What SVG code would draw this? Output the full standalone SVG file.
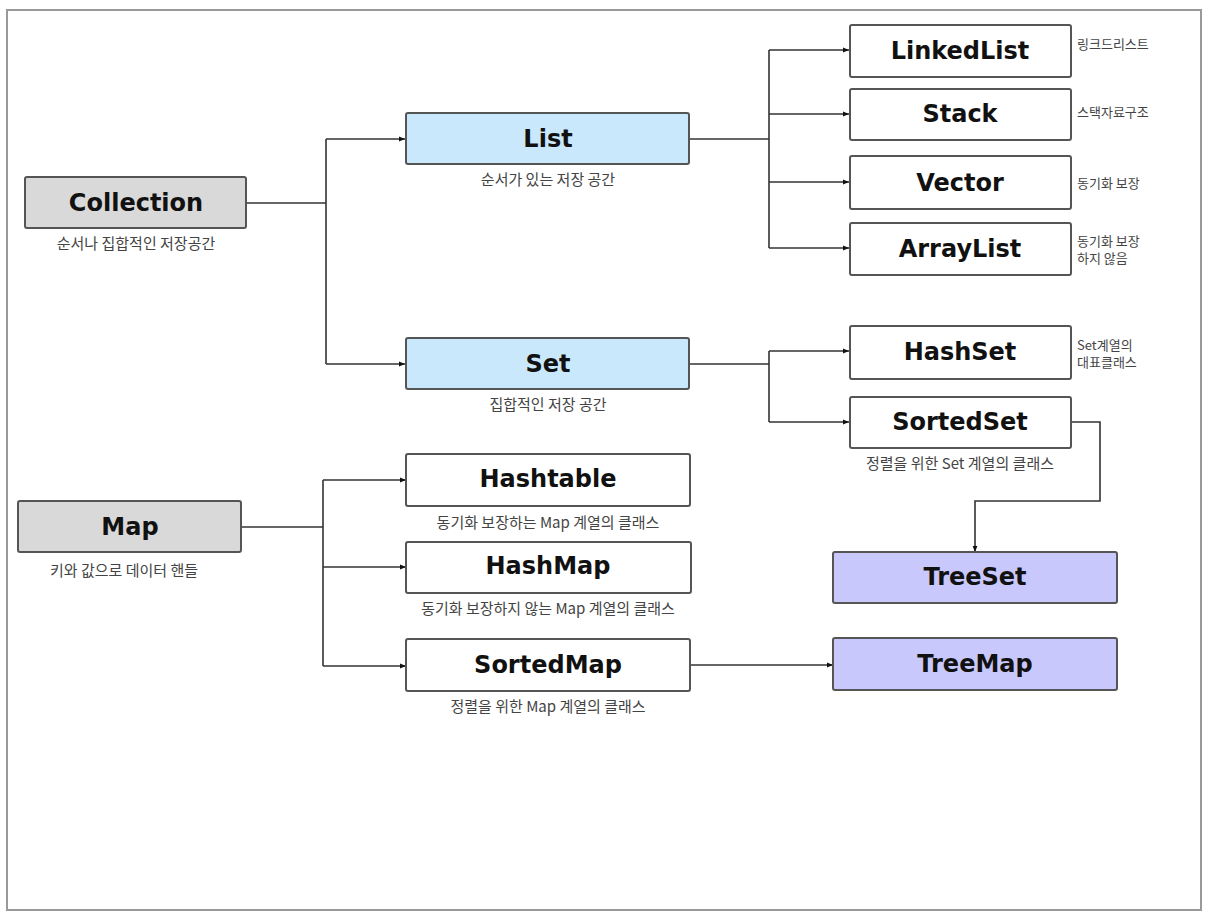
<svg xmlns="http://www.w3.org/2000/svg" width="1210" height="920" viewBox="0 0 1210 920">
<defs>
<style>
.box{stroke:#555;stroke-width:2}
.plain{fill:#fff}
.gray{fill:#d9d9d9}
.blue{fill:#c9e8fb}
.purple{fill:#c8c8fc}
.title{font-family:"DejaVu Sans",Verdana,sans-serif;font-weight:bold;font-size:24px;fill:#111;text-anchor:middle}
.lbl{font-family:"Noto Sans CJK KR","Noto Sans",sans-serif;font-size:15px;fill:#444;text-anchor:middle}
.side{font-family:"Noto Sans CJK KR","Noto Sans",sans-serif;font-size:13px;fill:#444}
.conn{fill:none;stroke:#333;stroke-width:1.6}
</style>
<marker id="arr" viewBox="0 0 10 10" refX="10" refY="5" markerWidth="6" markerHeight="6" orient="auto" markerUnits="userSpaceOnUse">
<path d="M0,1 L10,5 L0,9 z" fill="#111"/>
</marker>
</defs>
<rect x="0" y="0" width="1210" height="920" fill="#fff"/>
<rect x="7" y="10" width="1194" height="900" fill="none" stroke="#999" stroke-width="2"/>

<g id="connectors">
<path class="conn" d="M246,203 H326"/>
<path class="conn" d="M326,139 V364"/>
<path class="conn" d="M326,139 H405" marker-end="url(#arr)"/>
<path class="conn" d="M326,364 H405" marker-end="url(#arr)"/>
<path class="conn" d="M689,139 H769" stroke-width="2"/>
<path class="conn" d="M769,50 V248"/>
<path class="conn" d="M769,50 H849" marker-end="url(#arr)"/>
<path class="conn" d="M769,114 H849" marker-end="url(#arr)"/>
<path class="conn" d="M769,182 H849" marker-end="url(#arr)"/>
<path class="conn" d="M769,248 H849" marker-end="url(#arr)"/>
<path class="conn" d="M689,364 H769" stroke-width="2"/>
<path class="conn" d="M769,351 V422"/>
<path class="conn" d="M769,351 H849" marker-end="url(#arr)"/>
<path class="conn" d="M769,422 H849" marker-end="url(#arr)"/>
<path class="conn" d="M1071,422 H1100 V501 H975 V552" marker-end="url(#arr)"/>
<path class="conn" d="M241,527 H323"/>
<path class="conn" d="M323,480 V666"/>
<path class="conn" d="M323,480 H406" marker-end="url(#arr)"/>
<path class="conn" d="M323,567 H406" marker-end="url(#arr)"/>
<path class="conn" d="M323,666 H406" marker-end="url(#arr)"/>
<path class="conn" d="M690,665 H833" marker-end="url(#arr)"/>
</g>

<g id="collection">
<rect class="box gray" x="25" y="177" width="221" height="51" rx="2"/>
<text class="title" x="136" y="211">Collection</text>
<text class="lbl" x="136" y="249">순서나 집합적인 저장공간</text>
</g>
<g id="list">
<rect class="box blue" x="406" y="113" width="283" height="51" rx="2"/>
<text class="title" x="548" y="147">List</text>
<text class="lbl" x="548" y="185">순서가 있는 저장 공간</text>
</g>
<g id="set">
<rect class="box blue" x="406" y="338" width="283" height="51" rx="2"/>
<text class="title" x="548" y="372">Set</text>
<text class="lbl" x="548" y="410">집합적인 저장 공간</text>
</g>
<g id="linkedlist">
<rect class="box plain" x="850" y="25" width="221" height="52" rx="2"/>
<text class="title" x="960" y="59">LinkedList</text>
<text class="side" x="1077" y="49">링크드리스트</text>
</g>
<g id="stack">
<rect class="box plain" x="850" y="89" width="221" height="51" rx="2"/>
<text class="title" x="960" y="122">Stack</text>
<text class="side" x="1077" y="117">스택자료구조</text>
</g>
<g id="vector">
<rect class="box plain" x="850" y="156" width="221" height="53" rx="2"/>
<text class="title" x="960" y="191">Vector</text>
<text class="side" x="1077" y="188">동기화 보장</text>
</g>
<g id="arraylist">
<rect class="box plain" x="850" y="223" width="221" height="52" rx="2"/>
<text class="title" x="960" y="257">ArrayList</text>
<text class="side" x="1077" y="246">동기화 보장</text>
<text class="side" x="1077" y="263">하지 않음</text>
</g>
<g id="hashset">
<rect class="box plain" x="850" y="326" width="221" height="53" rx="2"/>
<text class="title" x="960" y="360">HashSet</text>
<text class="side" x="1077" y="350">Set계열의</text>
<text class="side" x="1077" y="367">대표클래스</text>
</g>
<g id="sortedset">
<rect class="box plain" x="850" y="397" width="221" height="51" rx="2"/>
<text class="title" x="960" y="430">SortedSet</text>
<text class="lbl" x="960" y="469">정렬을 위한 Set 계열의 클래스</text>
</g>
<g id="treeset">
<rect class="box purple" x="833" y="552" width="284" height="51" rx="2"/>
<text class="title" x="975" y="585">TreeSet</text>
</g>
<g id="map">
<rect class="box gray" x="18" y="501" width="223" height="51" rx="2"/>
<text class="title" x="130" y="535">Map</text>
<text class="lbl" x="124" y="576">키와 값으로 데이터 핸들</text>
</g>
<g id="hashtable">
<rect class="box plain" x="406" y="454" width="284" height="52" rx="2"/>
<text class="title" x="548" y="487">Hashtable</text>
<text class="lbl" x="548" y="528">동기화 보장하는 Map 계열의 클래스</text>
</g>
<g id="hashmap">
<rect class="box plain" x="406" y="542" width="285" height="51" rx="2"/>
<text class="title" x="548" y="574">HashMap</text>
<text class="lbl" x="548" y="614">동기화 보장하지 않는 Map 계열의 클래스</text>
</g>
<g id="sortedmap">
<rect class="box plain" x="406" y="639" width="284" height="52" rx="2"/>
<text class="title" x="548" y="673">SortedMap</text>
<text class="lbl" x="548" y="712">정렬을 위한 Map 계열의 클래스</text>
</g>
<g id="treemap">
<rect class="box purple" x="833" y="638" width="284" height="52" rx="2"/>
<text class="title" x="975" y="672">TreeMap</text>
</g>
</svg>
